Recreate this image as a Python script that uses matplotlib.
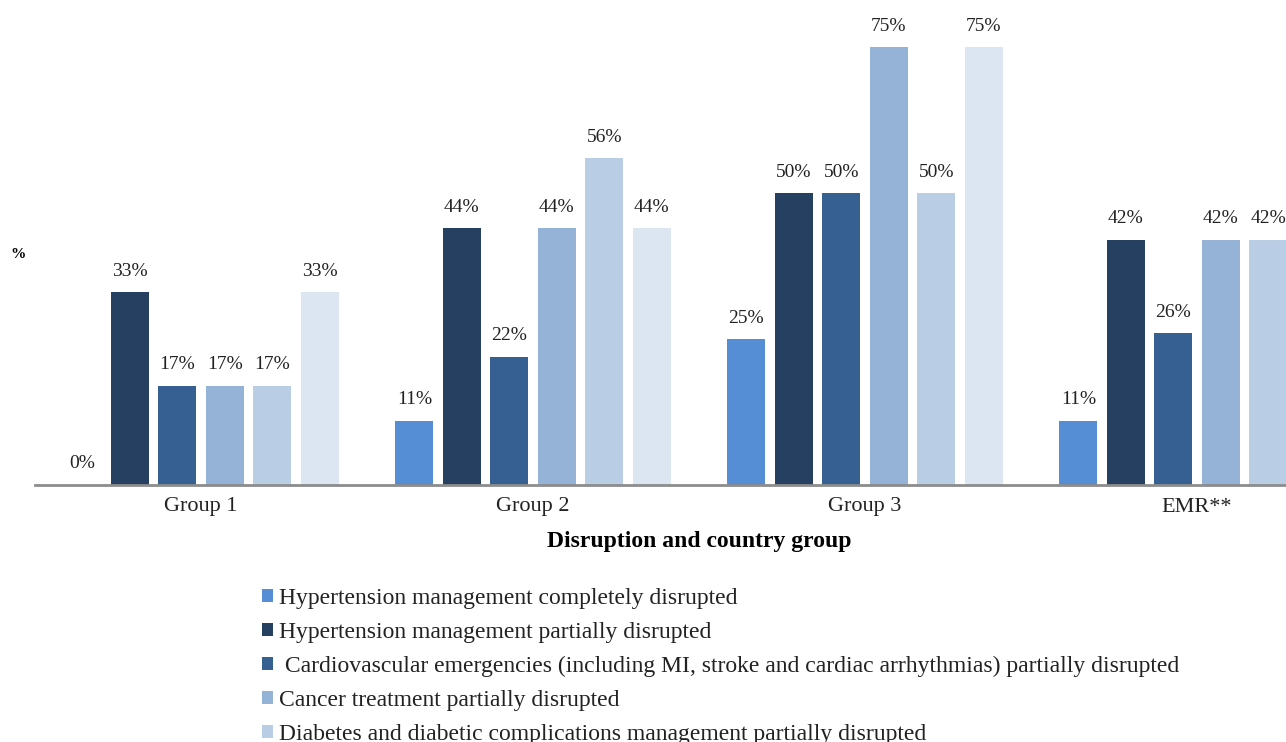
import numpy as np
import matplotlib
matplotlib.use("Agg")
import matplotlib.pyplot as plt

plt.rcParams['font.family'] = ['Liberation Serif', 'DejaVu Serif']

groups = ["Group 1", "Group 2", "Group 3", "EMR**"]
series = [
    "Hypertension management completely disrupted",
    "Hypertension management partially disrupted",
    " Cardiovascular emergencies (including MI, stroke and cardiac arrhythmias) partially disrupted",
    "Cancer treatment partially disrupted",
    "Diabetes and diabetic complications management partially disrupted",
    "_nolegend_",
]
# values (%) per series, in group order
htn_complete = [0, 11, 25, 11]
htn_partial = [33, 44, 50, 42]
cvd_partial = [17, 22, 50, 26]
cancer_partial = [17, 44, 75, 42]
diabetes_partial = [17, 56, 50, 42]
sixth_series = [33, 44, 75, 42]
values = [htn_complete, htn_partial, cvd_partial, cancer_partial, diabetes_partial, sixth_series]
colors = ["#558ed5", "#254061", "#376092", "#95b3d7", "#b9cde5", "#dce6f2"]

fig = plt.figure(figsize=(12.86, 7.42), dpi=100)
# axes deliberately runs past the right edge (reference is cropped)
ax = fig.add_axes([35 / 1286, 257 / 742, 1328 / 1286, 467 / 742])

x = np.arange(len(groups))
pitch = 1 / 7
width = 0.8 / 7
handles = []
for i, (vals, col, lab) in enumerate(zip(values, colors, series)):
    pos = x + (i - 2.5) * pitch
    b = ax.bar(pos, vals, width, color=col, label=lab)
    handles.append(b)
    for p, v in zip(pos, vals):
        ax.annotate(f"{v}%", (p, v), xytext=(0, 9), textcoords="offset points",
                    ha="center", va="bottom", fontsize=14, color="#222222")

ax.set_xlim(-0.5, 3.5)
ax.set_ylim(0, 80)
ax.set_xticks(x)
ax.set_xticklabels(groups, fontsize=16, color="#222222")
ax.tick_params(axis="x", length=0, pad=9)
ax.set_yticks([])
for s in ["top", "right", "left"]:
    ax.spines[s].set_visible(False)
ax.spines["bottom"].set_color("#8c8c8c")
ax.spines["bottom"].set_linewidth(2)

fig.text(699 / 1286, 1 - 542 / 742, "Disruption and country group", ha="center", va="center",
         fontsize=17, fontweight="bold")
fig.text(18 / 1286, 1 - 254 / 742, "%", ha="center", va="center", fontsize=11, fontweight="bold")

fig.legend(handles=handles[:5], loc="upper left", bbox_to_anchor=(262 / 1286, 1 - 588 / 742),
           frameon=False, fontsize=17, handlelength=0.45, handleheight=0.45, handletextpad=0.25,
           labelspacing=0.55, borderaxespad=0, borderpad=0, labelcolor="#222222")

fig.savefig("out.png", dpi=100)
